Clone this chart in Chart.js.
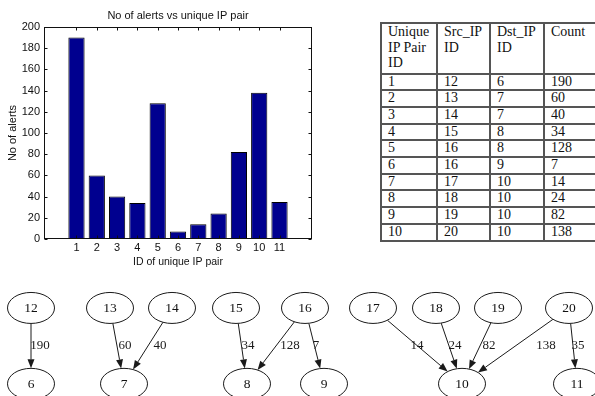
<!DOCTYPE html>
<html>
<head>
<meta charset="utf-8">
<script src="https://cdn.jsdelivr.net/npm/chart.js@4.4.1/dist/chart.umd.min.js"></script>
<style>
  html, body { margin:0; padding:0; background:#fff; }
  body { width:595px; height:396px; overflow:hidden; position:relative; }
  #bar { position:absolute; left:0; top:0; }
  #graph { position:absolute; left:0; top:270px; }
  #tbl { position:absolute; left:380px; top:22px; border-collapse:collapse; table-layout:fixed; width:223px;
         font-family:'Liberation Serif','DejaVu Serif',serif; font-size:14px; color:#111; }
  #tbl td { border:2px solid #555; padding:0 0 0 6px; line-height:14.7px; vertical-align:top; white-space:nowrap; overflow:hidden; }
  #tbl tr.head td { line-height:15.5px; padding-bottom:2px; white-space:normal; }
</style>
</head>
<body>
<canvas id="bar" width="330" height="270"></canvas>
<table id="tbl"></table>
<canvas id="graph" width="595" height="126"></canvas>
<script>
// ---------- data ----------
const chartTitle = 'No of alerts vs unique IP pair';
const xAxisTitle = 'ID of unique IP pair';
const yAxisTitle = 'No of alerts';
const pairIds = [1, 2, 3, 4, 5, 6, 7, 8, 9, 10, 11];
const srcIds  = [12, 13, 14, 15, 16, 16, 17, 18, 19, 20, 20];
const dstIds  = [6, 7, 7, 8, 8, 9, 10, 10, 10, 10, 11];
const counts  = [190, 60, 40, 34, 128, 7, 14, 24, 82, 138, 35];
const xTickLabels = [1, 2, 3, 4, 5, 6, 7, 8, 9, 10, 11];
const tableHeaders = ['Unique IP Pair ID', 'Src_IP ID', 'Dst_IP ID', 'Count'];
const tableRowCount = 10;

// graph layout
const nodeIds   = [12, 13, 14, 15, 16, 17, 18, 19, 20, 6, 7, 8, 9, 10, 11];
const nodeX     = [31, 110, 172, 236, 305, 373, 436, 498, 569, 31, 124, 247, 324, 462, 577];
const nodeRank  = [1, 1, 1, 1, 1, 1, 1, 1, 1, 0, 0, 0, 0, 0, 0];
const edgeLabelX = [40, 125, 160, 248, 290, 316, 417, 455, 489, 546, 578];

// ---------- table ----------
(function buildTable(){
  const t = document.getElementById('tbl');
  const cg = document.createElement('colgroup');
  [56, 53, 54, 60].forEach(w => { const c = document.createElement('col'); c.style.width = w + 'px'; cg.appendChild(c); });
  t.appendChild(cg);
  const hr = document.createElement('tr'); hr.className = 'head';
  tableHeaders.forEach(h => { const td = document.createElement('td'); td.textContent = h; hr.appendChild(td); });
  t.appendChild(hr);
  for (let i = 0; i < tableRowCount; i++) {
    const tr = document.createElement('tr');
    [pairIds[i], srcIds[i], dstIds[i], counts[i]].forEach(v => { const td = document.createElement('td'); td.textContent = v; tr.appendChild(td); });
    t.appendChild(tr);
  }
})();

// ---------- bar chart ----------
const sans = 'Liberation Sans, Arial, sans-serif';
const framePlugin = {
  id: 'frame',
  afterDatasetsDraw(chart) {
    const {ctx, chartArea: a, scales: {x, y}} = chart;
    ctx.save();
    ctx.strokeStyle = '#111';
    ctx.lineWidth = 1;
    const L = Math.round(a.left) + 0.5, R = Math.round(a.right) - 0.5;
    const T = Math.round(a.top) + 0.5, B = Math.round(a.bottom) - 0.5;
    ctx.strokeRect(L, T, R - L, B - T);
    const tk = 3;
    ctx.beginPath();
    x.ticks.forEach(t => {
      const px = Math.round(x.getPixelForValue(t.value)) + 0.5;
      ctx.moveTo(px, B); ctx.lineTo(px, B - tk);
      ctx.moveTo(px, T); ctx.lineTo(px, T + tk);
    });
    y.ticks.forEach(t => {
      const py = Math.round(y.getPixelForValue(t.value)) + 0.5;
      ctx.moveTo(L, py); ctx.lineTo(L + tk, py);
      ctx.moveTo(R, py); ctx.lineTo(R - tk, py);
    });
    ctx.stroke();
    ctx.restore();
  }
};

new Chart(document.getElementById('bar'), {
  type: 'bar',
  data: {
    datasets: [{
      data: pairIds.map((id, i) => ({x: id, y: counts[i]})),
      backgroundColor: '#00008f',
      borderColor: '#000',
      borderWidth: 1,
      barPercentage: 0.8,
      categoryPercentage: 1
    }]
  },
  options: {
    responsive: false, animation: false, devicePixelRatio: 1,
    layout: {padding: {left: 0, right: 18, top: 0, bottom: 0}},
    plugins: {
      legend: {display: false}, tooltip: {enabled: false},
      title: {display: true, text: chartTitle, fullSize: false, color: '#111',
              font: {family: sans, size: 11, weight: 'normal'}, padding: {top: 9, bottom: 4.8}}
    },
    scales: {
      x: {
        type: 'linear', min: 0, max: 12,
        grid: {display: false, drawTicks: false}, border: {display: false},
        afterBuildTicks: s => { s.ticks = xTickLabels.map(v => ({value: v})); },
        ticks: {autoSkip: false, maxRotation: 0, padding: 2.4, color: '#111', font: {family: sans, size: 11}},
        title: {display: true, text: xAxisTitle, color: '#111', font: {family: sans, size: 10.5}, padding: {top: 0, bottom: 1.4}},
        afterFit: s => { s.height = 31; }
      },
      y: {
        min: 0, max: 200,
        grid: {display: false, drawTicks: false}, border: {display: false},
        ticks: {stepSize: 20, padding: 4, color: '#111', font: {family: sans, size: 11}},
        title: {display: true, text: yAxisTitle, color: '#111', font: {family: sans, size: 11}, padding: {top: 6.4, bottom: 0}},
        afterFit: s => { s.width = 44; }
      }
    }
  },
  plugins: [framePlugin]
});

// ---------- graph ----------
const serif = 'Liberation Serif, Times New Roman, serif';
const RX = 23.5, RY = 15.5, AL = 9, AW = 7;
const graphPlugin = {
  id: 'graph',
  afterDatasetsDraw(chart) {
    const {ctx, scales: {x, y}} = chart;
    const pts = chart.getDatasetMeta(0).data;
    const pos = id => { const i = nodeIds.indexOf(id); return {x: pts[i].x, y: pts[i].y}; };
    ctx.save();
    ctx.strokeStyle = '#1a1a1a'; ctx.fillStyle = '#1a1a1a'; ctx.lineWidth = 1;
    counts.forEach((c, i) => {
      const s = pos(srcIds[i]), d = pos(dstIds[i]);
      const dx = d.x - s.x, dy = d.y - s.y;
      const len = Math.hypot(dx, dy), ux = dx / len, uy = dy / len;
      const k = 1 / Math.sqrt((dx / RX) ** 2 + (dy / RY) ** 2);
      const sx = s.x + k * dx, sy = s.y + k * dy;
      const ex = d.x - k * dx, ey = d.y - k * dy;
      const bx = ex - AL * ux, by = ey - AL * uy;
      ctx.beginPath(); ctx.moveTo(sx, sy); ctx.lineTo(bx, by); ctx.stroke();
      ctx.beginPath();
      ctx.moveTo(ex, ey);
      ctx.lineTo(bx - uy * AW / 2, by + ux * AW / 2);
      ctx.lineTo(bx + uy * AW / 2, by - ux * AW / 2);
      ctx.closePath(); ctx.fill();
    });
    ctx.font = '13px ' + serif;
    ctx.textAlign = 'center'; ctx.textBaseline = 'middle';
    const midY = y.getPixelForValue(0.5);
    counts.forEach((c, i) => { ctx.fillText(String(c), x.getPixelForValue(edgeLabelX[i]), midY); });
    nodeIds.forEach((id, i) => {
      const p = pts[i];
      ctx.beginPath(); ctx.ellipse(p.x, p.y, RX, RY, 0, 0, Math.PI * 2);
      ctx.fillStyle = '#fff'; ctx.fill(); ctx.stroke();
      ctx.fillStyle = '#111';
      ctx.font = '13.5px ' + serif;
      ctx.fillText(String(id), p.x, p.y + 0.5);
    });
    ctx.restore();
  }
};

new Chart(document.getElementById('graph'), {
  type: 'scatter',
  data: {datasets: [{data: nodeIds.map((id, i) => ({x: nodeX[i], y: nodeRank[i]})), pointRadius: 0}]},
  options: {
    responsive: false, animation: false, devicePixelRatio: 1,
    layout: {padding: 0, autoPadding: false},
    plugins: {legend: {display: false}, tooltip: {enabled: false}},
    scales: {x: {display: false, min: 0, max: 595}, y: {display: false, min: -0.16, max: 1.5}}
  },
  plugins: [graphPlugin]
});
</script>
</body>
</html>
